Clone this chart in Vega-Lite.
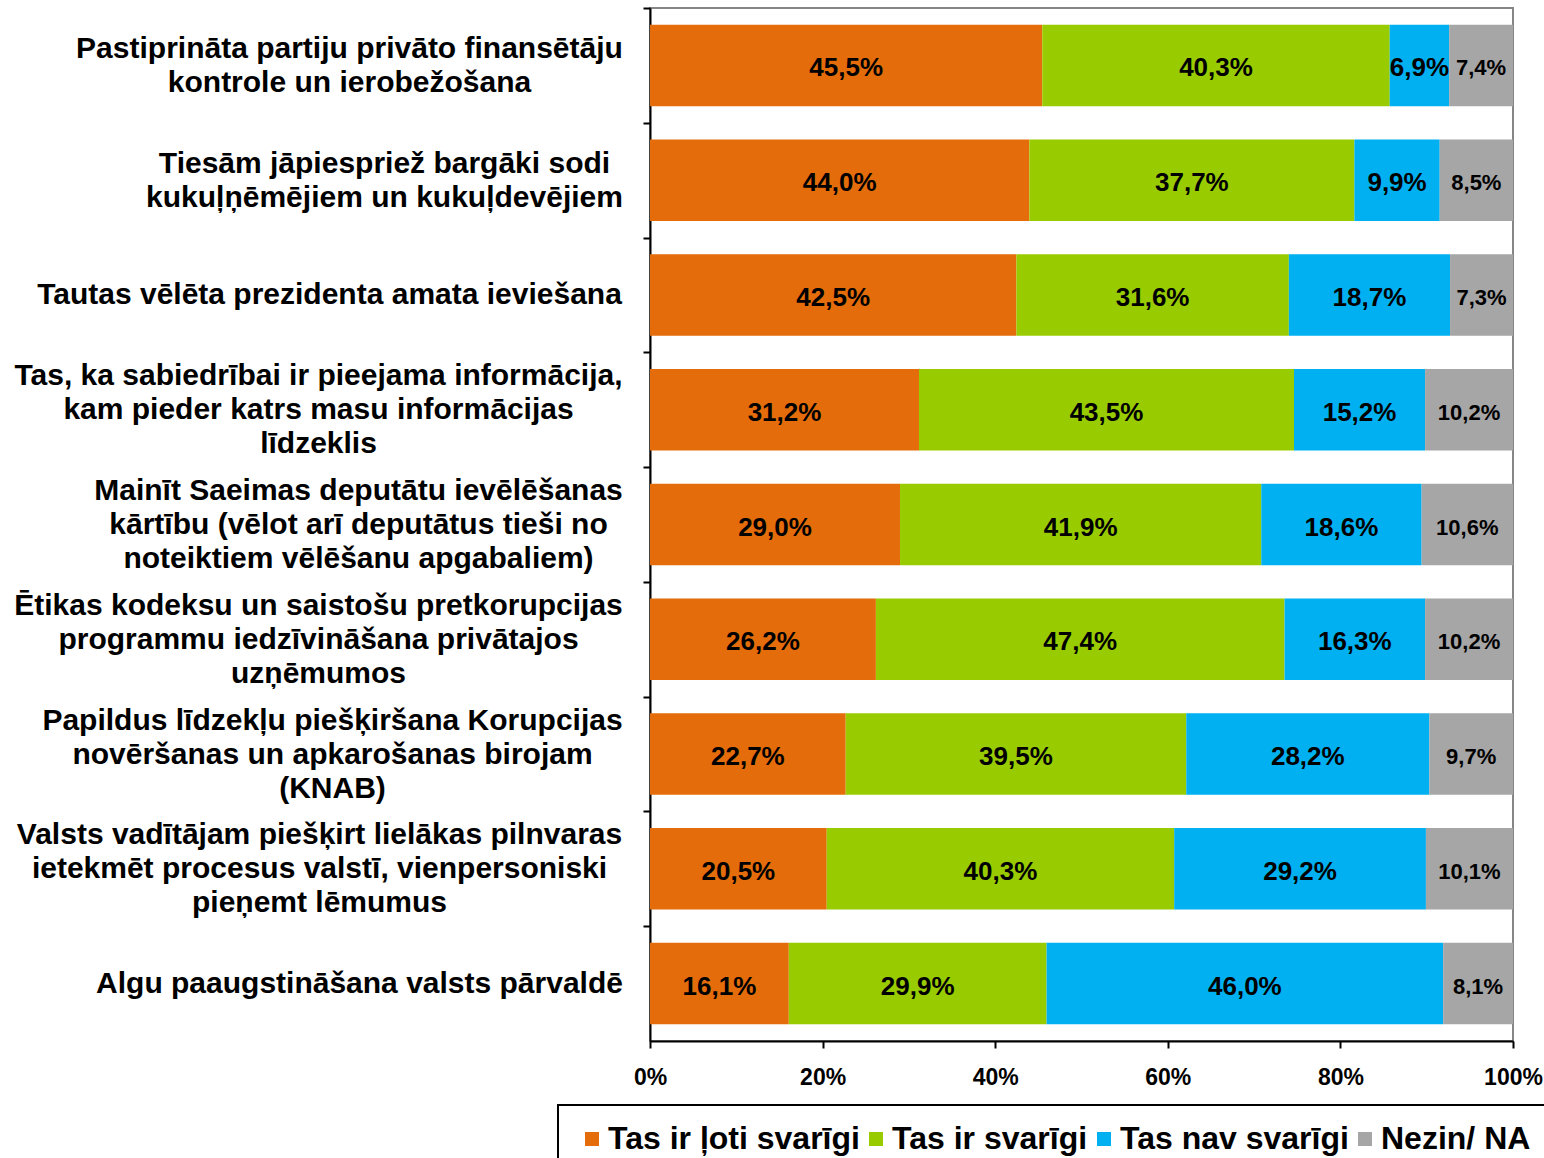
{
  "$schema": "https://vega.github.io/schema/vega-lite/v6.json",
  "autosize": {"type": "none"},
  "width": 863,
  "height": 1033,
  "padding": {"left": 650, "top": 8, "right": 31, "bottom": 117},
  "background": "white",
  "config": {
    "view": {"stroke": "#868686", "strokeWidth": 2},
    "font": "Liberation Sans"
  },
  "datasets": {
    "questions": [
      {"q": 1, "lab": "Pastiprināta partiju privāto finansētāju|kontrole un ierobežošana"},
      {"q": 2, "lab": "Tiesām jāpiespriež bargāki sodi|kukuļņēmējiem un kukuļdevējiem"},
      {"q": 3, "lab": "Tautas vēlēta prezidenta amata ieviešana"},
      {"q": 4, "lab": "Tas, ka sabiedrībai ir pieejama informācija,|kam pieder katrs masu informācijas|līdzeklis"},
      {"q": 5, "lab": "Mainīt Saeimas deputātu ievēlēšanas|kārtību (vēlot arī deputātus tieši no|noteiktiem vēlēšanu apgabaliem)"},
      {"q": 6, "lab": "Ētikas kodeksu un saistošu pretkorupcijas|programmu iedzīvināšana privātajos|uzņēmumos"},
      {"q": 7, "lab": "Papildus līdzekļu piešķiršana Korupcijas|novēršanas un apkarošanas birojam|(KNAB)"},
      {"q": 8, "lab": "Valsts vadītājam piešķirt lielākas pilnvaras|ietekmēt procesus valstī, vienpersoniski|pieņemt lēmumus"},
      {"q": 9, "lab": "Algu paaugstināšana valsts pārvaldē"}
    ]
  },
  "data": {
    "values": [
      {"q": 1, "k": 1, "cat": "Tas ir ļoti svarīgi", "v": 45.5, "t": "45,5%"},
      {"q": 1, "k": 2, "cat": "Tas ir svarīgi", "v": 40.3, "t": "40,3%"},
      {"q": 1, "k": 3, "cat": "Tas nav svarīgi", "v": 6.9, "t": "6,9%"},
      {"q": 1, "k": 4, "cat": "Nezin/ NA", "v": 7.4, "t": "7,4%"},
      {"q": 2, "k": 1, "cat": "Tas ir ļoti svarīgi", "v": 44.0, "t": "44,0%"},
      {"q": 2, "k": 2, "cat": "Tas ir svarīgi", "v": 37.7, "t": "37,7%"},
      {"q": 2, "k": 3, "cat": "Tas nav svarīgi", "v": 9.9, "t": "9,9%"},
      {"q": 2, "k": 4, "cat": "Nezin/ NA", "v": 8.5, "t": "8,5%"},
      {"q": 3, "k": 1, "cat": "Tas ir ļoti svarīgi", "v": 42.5, "t": "42,5%"},
      {"q": 3, "k": 2, "cat": "Tas ir svarīgi", "v": 31.6, "t": "31,6%"},
      {"q": 3, "k": 3, "cat": "Tas nav svarīgi", "v": 18.7, "t": "18,7%"},
      {"q": 3, "k": 4, "cat": "Nezin/ NA", "v": 7.3, "t": "7,3%"},
      {"q": 4, "k": 1, "cat": "Tas ir ļoti svarīgi", "v": 31.2, "t": "31,2%"},
      {"q": 4, "k": 2, "cat": "Tas ir svarīgi", "v": 43.5, "t": "43,5%"},
      {"q": 4, "k": 3, "cat": "Tas nav svarīgi", "v": 15.2, "t": "15,2%"},
      {"q": 4, "k": 4, "cat": "Nezin/ NA", "v": 10.2, "t": "10,2%"},
      {"q": 5, "k": 1, "cat": "Tas ir ļoti svarīgi", "v": 29.0, "t": "29,0%"},
      {"q": 5, "k": 2, "cat": "Tas ir svarīgi", "v": 41.9, "t": "41,9%"},
      {"q": 5, "k": 3, "cat": "Tas nav svarīgi", "v": 18.6, "t": "18,6%"},
      {"q": 5, "k": 4, "cat": "Nezin/ NA", "v": 10.6, "t": "10,6%"},
      {"q": 6, "k": 1, "cat": "Tas ir ļoti svarīgi", "v": 26.2, "t": "26,2%"},
      {"q": 6, "k": 2, "cat": "Tas ir svarīgi", "v": 47.4, "t": "47,4%"},
      {"q": 6, "k": 3, "cat": "Tas nav svarīgi", "v": 16.3, "t": "16,3%"},
      {"q": 6, "k": 4, "cat": "Nezin/ NA", "v": 10.2, "t": "10,2%"},
      {"q": 7, "k": 1, "cat": "Tas ir ļoti svarīgi", "v": 22.7, "t": "22,7%"},
      {"q": 7, "k": 2, "cat": "Tas ir svarīgi", "v": 39.5, "t": "39,5%"},
      {"q": 7, "k": 3, "cat": "Tas nav svarīgi", "v": 28.2, "t": "28,2%"},
      {"q": 7, "k": 4, "cat": "Nezin/ NA", "v": 9.7, "t": "9,7%"},
      {"q": 8, "k": 1, "cat": "Tas ir ļoti svarīgi", "v": 20.5, "t": "20,5%"},
      {"q": 8, "k": 2, "cat": "Tas ir svarīgi", "v": 40.3, "t": "40,3%"},
      {"q": 8, "k": 3, "cat": "Tas nav svarīgi", "v": 29.2, "t": "29,2%"},
      {"q": 8, "k": 4, "cat": "Nezin/ NA", "v": 10.1, "t": "10,1%"},
      {"q": 9, "k": 1, "cat": "Tas ir ļoti svarīgi", "v": 16.1, "t": "16,1%"},
      {"q": 9, "k": 2, "cat": "Tas ir svarīgi", "v": 29.9, "t": "29,9%"},
      {"q": 9, "k": 3, "cat": "Tas nav svarīgi", "v": 46.0, "t": "46,0%"},
      {"q": 9, "k": 4, "cat": "Nezin/ NA", "v": 8.1, "t": "8,1%"}
    ]
  },
  "transform": [
    {"lookup": "q", "from": {"data": {"name": "questions"}, "key": "q", "fields": ["lab"]}}
  ],
  "encoding": {
    "y": {
      "field": "lab",
      "type": "nominal",
      "sort": null,
      "scale": {"paddingInner": 0.29, "paddingOuter": 0.145},
      "axis": {
        "title": null,
        "domainColor": "black",
        "domainWidth": 2,
        "tickColor": "black",
        "tickWidth": 2,
        "tickSize": 7,
        "tickOffset": -57.4,
        "labelOffset": {
          "condition": [
            {"test": "length(split(datum.value, '|')) == 3", "value": 23.4},
            {"test": "length(split(datum.value, '|')) == 2", "value": 40.4}
          ],
          "value": 57.4
        },
        "labelPadding": {
          "condition": [
            {"test": "indexof(datum.value, 'Pastipr') == 0", "value": 294},
            {"test": "indexof(datum.value, 'Tiesām') == 0", "value": 259},
            {"test": "indexof(datum.value, 'Tautas') == 0", "value": 314},
            {"test": "indexof(datum.value, 'Mainīt') == 0", "value": 285},
            {"test": "indexof(datum.value, 'Papildus') == 0", "value": 311},
            {"test": "indexof(datum.value, 'Valsts') == 0", "value": 324},
            {"test": "indexof(datum.value, 'Algu') == 0", "value": 284}
          ],
          "value": 325
        },
        "labelExpr": "split(datum.value, '|')",
        "labelAlign": "center",
        "labelBaseline": "middle",
        "labelLimit": 0,
        "labelFont": "Liberation Sans",
        "labelFontWeight": "bold",
        "labelFontSize": 30,
        "labelLineHeight": 34,
        "labelColor": "black"
      }
    },
    "x": {
      "field": "v",
      "type": "quantitative",
      "stack": "normalize",
      "scale": {"domain": [0, 1], "nice": false},
      "axis": {
        "title": null,
        "values": [0, 0.2, 0.4, 0.6, 0.8, 1],
        "format": ".0%",
        "grid": false,
        "domainColor": "black",
        "domainWidth": 2,
        "tickColor": "black",
        "tickWidth": 2,
        "tickSize": 7,
        "labelFlush": false,
        "labelPadding": 18,
        "labelFont": "Liberation Sans",
        "labelFontWeight": "bold",
        "labelFontSize": 23,
        "labelColor": "black"
      }
    },
    "order": {"field": "k", "type": "quantitative"}
  },
  "layer": [
    {
      "mark": {"type": "bar"},
      "encoding": {
        "color": {
          "field": "cat",
          "type": "nominal",
          "sort": ["Tas ir ļoti svarīgi", "Tas ir svarīgi", "Tas nav svarīgi", "Nezin/ NA"],
          "scale": {
            "domain": ["Tas ir ļoti svarīgi", "Tas ir svarīgi", "Tas nav svarīgi", "Nezin/ NA"],
            "range": ["#E46C0A", "#99CC00", "#00B0F0", "#A6A6A6"]
          },
          "legend": {
            "title": null,
            "orient": "none",
            "legendX": -92,
            "legendY": 1097,
            "direction": "horizontal",
            "columns": 4,
            "symbolType": "square",
            "symbolSize": 196,
            "symbolStrokeWidth": 0,
            "labelFont": "Liberation Sans",
            "labelFontWeight": "bold",
            "labelFontSize": 32,
            "labelColor": "black",
            "labelOffset": 0,
            "labelLimit": 0,
            "columnPadding": 0,
            "padding": 18,
            "strokeColor": "black",
            "encode": {"legend": {"update": {"strokeWidth": {"value": 2}}}}
          }
        }
      }
    },
    {
      "mark": {"type": "text", "font": "Liberation Sans", "fontWeight": "bold", "color": "black", "align": "center", "baseline": "middle", "dy": 3},
      "encoding": {
        "x": {"field": "v", "type": "quantitative", "stack": "normalize", "bandPosition": 0.5},
        "text": {"field": "t"},
        "size": {"condition": {"test": "datum.k === 4", "value": 22}, "value": 26}
      }
    }
  ]
}
